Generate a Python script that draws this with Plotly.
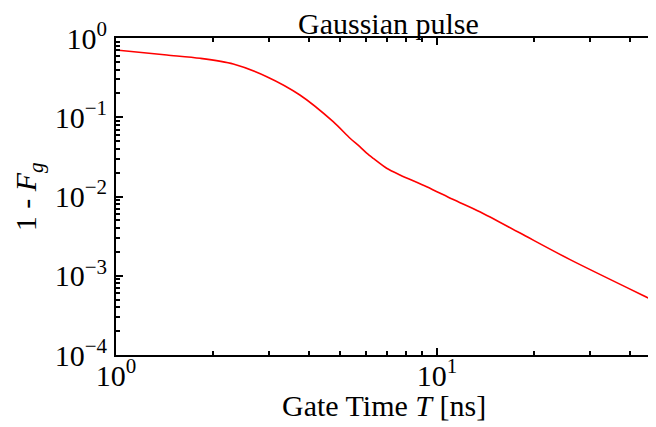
import plotly.graph_objects as go

# Data
gate_time_ns = [1.0, 1.44, 1.83, 2.32, 2.95, 3.74, 4.75, 5.36, 5.75, 6.04, 6.33,
                6.97, 7.67, 9.29, 11.2, 13.6, 18.1, 25.9, 48.1, 50.0]
infidelity = [0.705, 0.610, 0.554, 0.470, 0.325, 0.191, 0.0879, 0.0543, 0.0425,
              0.0352, 0.0303, 0.0227, 0.0187, 0.0133, 0.00923, 0.00643,
              0.00348, 0.00161, 0.000471, 0.000436]

x_major_vals = [1, 10]
x_major_text = ["10<sup>0</sup>", "10<sup>1</sup>"]
x_minor_vals = [2, 3, 4, 5, 6, 7, 8, 9, 20, 30, 40]
y_major_vals = [1e-4, 1e-3, 1e-2, 1e-1, 1]
y_major_text = ["10<sup>\u22124</sup>", "10<sup>\u22123</sup>", "10<sup>\u22122</sup>",
                "10<sup>\u22121</sup>", "10<sup>0</sup>"]
y_minor_vals = [m * 10.0 ** e for e in (-4, -3, -2, -1) for m in range(2, 10)]

title_text = "Gaussian pulse"
x_title = "Gate Time <i>T</i> [ns]"
y_title = "1 - <i>F</i><sub><i>g</i></sub>"

FONT = "Liberation Serif, Times New Roman, serif"
FS = 30

fig = go.Figure()
fig.add_trace(go.Scatter(x=gate_time_ns, y=infidelity, mode="lines",
                         line=dict(color="#ff0000", width=1.6, shape="spline",
                                   smoothing=0.8),
                         showlegend=False, hoverinfo="x+y"))

fig.update_layout(
    width=656, height=427,
    margin=dict(l=108, r=4, t=30, b=80),
    paper_bgcolor="white", plot_bgcolor="white",
    font=dict(family=FONT, size=FS, color="black"),
    xaxis=dict(
        type="log", range=[0, 1.695],
        showline=True, linecolor="black", linewidth=2, mirror="ticks",
        showgrid=False, zeroline=False,
        ticks="inside", ticklen=7, tickwidth=2, tickcolor="black",
        tickmode="array", tickvals=x_major_vals, ticktext=x_major_text,
        tickfont=dict(family=FONT, size=FS),
        ticklabelstandoff=-7,
        minor=dict(ticks="inside", ticklen=4, tickwidth=1.5, tickcolor="black",
                   tickmode="array", tickvals=x_minor_vals, showgrid=False),
        automargin=False,
    ),
    yaxis=dict(
        type="log", range=[-4, 0],
        showline=True, linecolor="black", linewidth=2, mirror="ticks",
        showgrid=False, zeroline=False,
        ticks="inside", ticklen=7, tickwidth=2, tickcolor="black",
        tickmode="array", tickvals=y_major_vals, ticktext=y_major_text,
        tickfont=dict(family=FONT, size=FS),
        ticklabelstandoff=1,
        minor=dict(ticks="inside", ticklen=4, tickwidth=1.5, tickcolor="black",
                   tickmode="array", tickvals=y_minor_vals, showgrid=False),
        automargin=False,
    ),
    annotations=[
        dict(text=title_text, xref="paper", yref="paper", x=0.5, y=1.0,
             xanchor="center", yanchor="bottom", yshift=-4, showarrow=False,
             font=dict(family=FONT, size=FS, color="black")),
        dict(text=x_title, xref="paper", yref="paper", x=0.4926, y=-0.158,
             xanchor="center", yanchor="middle", showarrow=False,
             font=dict(family=FONT, size=FS, color="black")),
        dict(text=y_title, xref="paper", yref="paper", x=-0.162, y=0.5,
             xanchor="center", yanchor="middle", showarrow=False, textangle=-90,
             font=dict(family=FONT, size=FS, color="black")),
    ],
)

fig.write_html("out.html")
